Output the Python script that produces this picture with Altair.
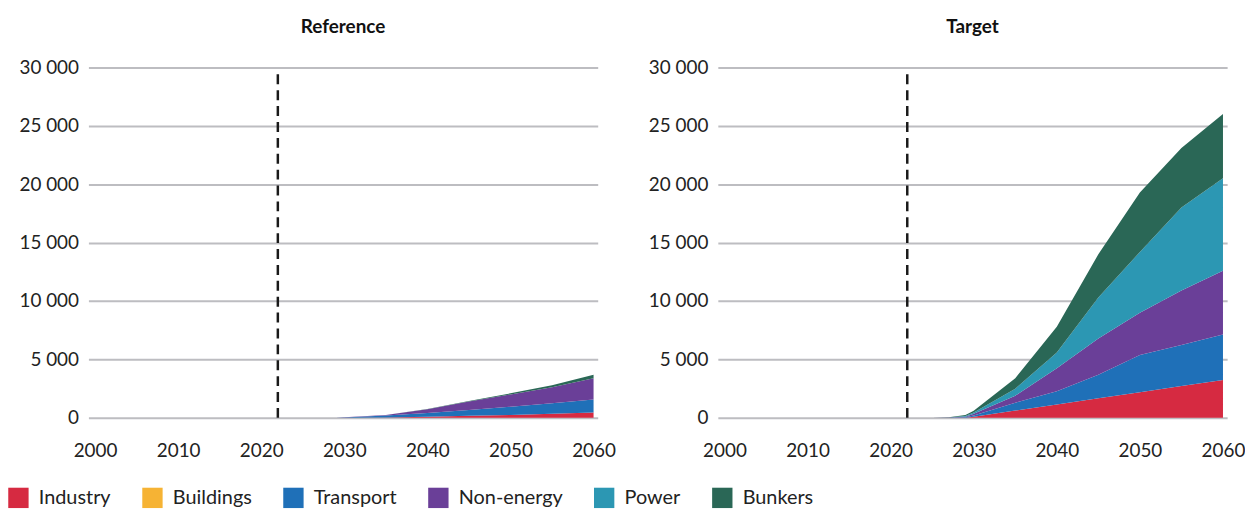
import altair as alt
import pandas as pd

years = [2000, 2022, 2025, 2027, 2029, 2030, 2035, 2040, 2045, 2050, 2055, 2060]
sectors = ["Industry", "Buildings", "Transport", "Non-energy", "Power", "Bunkers"]
colors = ["#d62a41", "#f6b334", "#1f70b8", "#6a3f98", "#2c97b3", "#2a6756"]

# Reference scenario (values per sector)
ref_industry = [0, 0, 0, 0, 0, 10, 40, 100, 170, 250, 350, 450]
ref_buildings = [0, 0, 0, 0, 0, 0, 0, 0, 0, 0, 0, 0]
ref_transport = [0, 0, 0, 0, 10, 30, 150, 320, 500, 700, 900, 1110]
ref_nonenergy = [0, 0, 0, 0, 0, 10, 50, 310, 730, 1050, 1370, 1840]
ref_power = [0, 0, 0, 0, 0, 0, 0, 0, 0, 0, 0, 0]
ref_bunkers = [0, 0, 0, 0, 0, 0, 10, 20, 50, 100, 180, 280]

# Target scenario (values per sector)
tgt_industry = [0, 0, 0, 0, 10, 100, 620, 1150, 1680, 2200, 2720, 3250]
tgt_buildings = [0, 0, 0, 0, 0, 0, 0, 0, 0, 0, 0, 0]
tgt_transport = [0, 0, 0, 10, 40, 100, 680, 1120, 2000, 3180, 3510, 3890]
tgt_nonenergy = [0, 0, 0, 10, 50, 150, 600, 1980, 3120, 3620, 4670, 5460]
tgt_power = [0, 0, 0, 10, 50, 100, 600, 1350, 3500, 5200, 7100, 7900]
tgt_bunkers = [0, 0, 0, 20, 100, 150, 900, 2200, 3700, 5100, 5100, 5500]

base_year = 2022

rows = []
for scen, series in [
    ("Reference", [ref_industry, ref_buildings, ref_transport, ref_nonenergy, ref_power, ref_bunkers]),
    ("Target", [tgt_industry, tgt_buildings, tgt_transport, tgt_nonenergy, tgt_power, tgt_bunkers]),
]:
    for i, (name, vals) in enumerate(zip(sectors, series)):
        for y, v in zip(years, vals):
            rows.append({"scenario": scen, "sector": name, "idx": i, "year": y, "value": v})
df = pd.DataFrame(rows)

FONT = "Lato"

color_scale = alt.Scale(domain=sectors, range=colors)


def panel(scen):
    d = df[df["scenario"] == scen]
    x_enc = alt.X(
        "year:Q",
        scale=alt.Scale(domain=[1999.2, 2060.5], nice=False),
        axis=alt.Axis(values=[2000, 2010, 2020, 2030, 2040, 2050, 2060], format="d",
                      grid=False, title=None, labelPadding=24, labelFlush=False),
    )
    y_enc = alt.Y(
        "value:Q",
        stack="zero",
        scale=alt.Scale(domain=[0, 30000], nice=False),
        axis=alt.Axis(values=[0, 5000, 10000, 15000, 20000, 25000, 30000],
                      labelExpr="replace(format(datum.value, ','), ',', ' ')",
                      title=None, labelPadding=10, grid=True),
    )
    area = alt.Chart(d).mark_area(interpolate="linear").encode(
        x=x_enc,
        y=y_enc,
        color=alt.Color("sector:N", scale=color_scale, sort=sectors,
                        legend=alt.Legend(title=None, orient="none", direction="horizontal",
                                          legendX=-81, legendY=423,
                                          symbolType="square", symbolSize=420,
                                          symbolStrokeWidth=0,
                                          labelFontSize=20, labelFont=FONT, labelColor="#222",
                                          columnPadding=31, labelOffset=10)),
        order=alt.Order("idx:Q", sort="ascending"),
    )
    rule_df = pd.DataFrame({"year": [base_year], "lo": [0], "hi": [29500]})
    rule = alt.Chart(rule_df).mark_rule(color="#1a1a1a", strokeWidth=2.5, strokeDash=[10, 6]).encode(
        x="year:Q", y="lo:Q", y2="hi:Q"
    )
    return alt.layer(area, rule).properties(
        width=513, height=353,
        title=alt.TitleParams(scen, fontSize=19, font=FONT, fontWeight="bold", color="#111",
                              anchor="middle", offset=22),
    )


chart = alt.hconcat(panel("Reference"), panel("Target"), spacing=33).properties(
    padding={"left": 0, "top": 8, "right": 0, "bottom": 0}
).configure_view(stroke=None).configure_axis(
    domain=False, ticks=False, gridColor="#bdbdc1", gridWidth=2,
    labelFont=FONT, labelFontSize=19, labelColor="#222",
)

chart.save("out.html", embed_options={"renderer": "svg", "actions": False})
